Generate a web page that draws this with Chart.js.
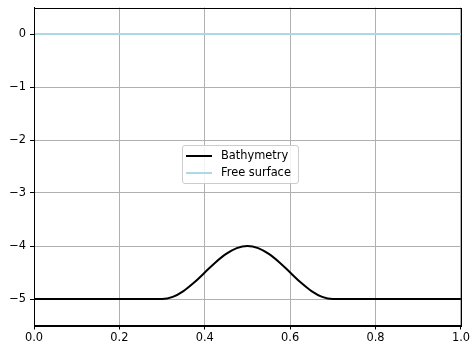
<!DOCTYPE html>
<html>
<head>
<meta charset="utf-8">
<script src="https://cdn.jsdelivr.net/npm/chart.js@4/dist/chart.umd.min.js"></script>
<style>
html,body{margin:0;padding:0;background:#fff;}
#wrap{position:relative;width:472px;height:345px;}
#legend{position:absolute;box-sizing:border-box;width:117px;height:39px;background:rgba(255,255,255,0.85);border:1px solid #cccccc;border-radius:3px;font-family:"DejaVu Sans",sans-serif;font-size:11.4px;color:#000;padding:1px 3px 2px 3px;line-height:17px;}
#legend .row{display:flex;align-items:center;white-space:nowrap;height:17px;}
#legend .sw{display:inline-block;width:26px;height:0;margin-right:9px;}
</style>
</head>
<body>
<div id="wrap">
<canvas id="c" width="472" height="345"></canvas>
<div id="legend"></div>
</div>
<script>
const xValues = [0.0, 0.1, 0.2, 0.3, 0.325, 0.35, 0.375, 0.4, 0.425, 0.45, 0.475, 0.5, 0.525, 0.55, 0.575, 0.6, 0.625, 0.65, 0.675, 0.7, 0.8, 0.9, 1.0];
const bathymetry = [-5, -5, -5, -5, -4.96, -4.85, -4.69, -4.5, -4.31, -4.15, -4.04, -4.0, -4.04, -4.15, -4.31, -4.5, -4.69, -4.85, -4.96, -5, -5, -5, -5];
const surfaceX = [0.0, 1.0];
const freeSurface = [0, 0];
const xTicks = [0.0, 0.2, 0.4, 0.6, 0.8, 1.0];
const yTicks = [-5, -4, -3, -2, -1, 0];
const seriesNames = ["Bathymetry", "Free surface"];
const seriesColors = ["#000000", "#add8e6"];

const font = {family: "DejaVu Sans", size: 11.4, lineHeight: 1.2};

const framePlugin = {
  id: 'frame',
  afterLayout(chart) {
    const a = chart.chartArea;
    const lg = document.getElementById('legend');
    lg.style.left = Math.round(a.left + (a.right - a.left) * 0.3458) + 'px';
    lg.style.top = Math.round(a.top + (a.bottom - a.top) * 0.432) + 'px';
  },
  afterDraw(chart) {
    const a = chart.chartArea, ctx = chart.ctx;
    ctx.save();
    ctx.strokeStyle = '#000';
    ctx.lineWidth = 1;
    ctx.strokeRect(Math.round(a.left) + 0.5, Math.round(a.top) + 0.5, Math.round(a.right - a.left), Math.round(a.bottom - a.top));
    ctx.restore();
  }
};

new Chart(document.getElementById('c'), {
  type: 'line',
  data: {
    datasets: [
      {label: seriesNames[0], data: xValues.map((x, i) => ({x: x, y: bathymetry[i]})), borderColor: seriesColors[0], borderWidth: 2, pointRadius: 0, tension: 0.4, cubicInterpolationMode: 'monotone', fill: false},
      {label: seriesNames[1], data: surfaceX.map((x, i) => ({x: x, y: freeSurface[i]})), borderColor: seriesColors[1], borderWidth: 2, pointRadius: 0, fill: false}
    ]
  },
  options: {
    responsive: false,
    animation: false,
    layout: {padding: {top: 0, right: 10, left: 0, bottom: 0}},
    plugins: {legend: {display: false}, tooltip: {enabled: false}},
    scales: {
      x: {
        type: 'linear', min: 0, max: 1,
        afterBuildTicks: s => { s.ticks = xTicks.map(v => ({value: v})); },
        afterFit: s => { s.height = 19.5; },
        ticks: {color: '#000', font: font, padding: 2, maxRotation: 0, callback: v => Number(v).toFixed(1)},
        grid: {color: '#b0b0b0', lineWidth: 1, tickLength: 4, tickColor: '#000', drawOnChartArea: true},
        border: {display: true, color: '#000', width: 1}
      },
      y: {
        type: 'linear', min: -5.5, max: 0.5,
        afterBuildTicks: s => { s.ticks = yTicks.map(v => ({value: v})); },
        afterFit: s => { s.width = 34; s.paddingTop = 7.5; s.paddingBottom = 0; },
        ticks: {color: '#000', font: font, padding: 4, callback: v => (v < 0 ? '\u2212' + Math.abs(v) : String(v))},
        grid: {color: '#b0b0b0', lineWidth: 1, tickLength: 4, tickColor: '#000', drawOnChartArea: true},
        border: {display: true, color: '#000', width: 1}
      }
    }
  },
  plugins: [framePlugin]
});

const lg = document.getElementById('legend');
seriesNames.forEach((n, i) => {
  const row = document.createElement('div');
  row.className = 'row';
  const sw = document.createElement('span');
  sw.className = 'sw';
  sw.style.borderTop = '2px solid ' + seriesColors[i];
  const t = document.createElement('span');
  t.textContent = n;
  row.appendChild(sw); row.appendChild(t);
  lg.appendChild(row);
});
</script>
</body>
</html>
